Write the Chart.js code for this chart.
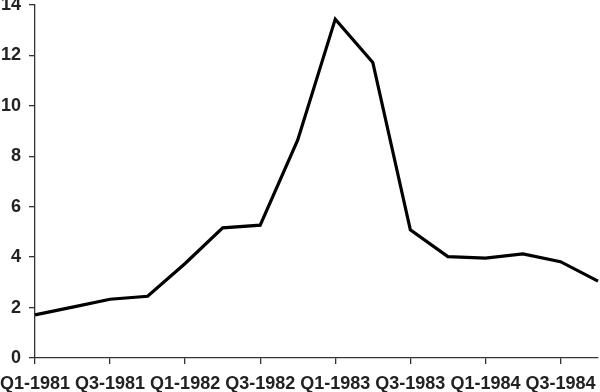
<!DOCTYPE html>
<html>
<head>
<meta charset="utf-8">
<script src="https://cdn.jsdelivr.net/npm/chart.js@4"></script>
<style>
  html, body { margin: 0; padding: 0; background: #fff; }
  #wrap { width: 600px; height: 392px; }
</style>
</head>
<body>
<div id="wrap"><canvas id="grafica"></canvas></div>
<script>
// Trimestres 1981-1984
const trimestres = [
  "Q1-1981", "Q2-1981", "Q3-1981", "Q4-1981",
  "Q1-1982", "Q2-1982", "Q3-1982", "Q4-1982",
  "Q1-1983", "Q2-1983", "Q3-1983", "Q4-1983",
  "Q1-1984", "Q2-1984", "Q3-1984", "Q4-1984"
];
const valores = [
  1.71, 2.02, 2.33, 2.45,
  3.75, 5.16, 5.27, 8.65,
  13.44, 11.72, 5.08, 4.02,
  3.96, 4.13, 3.82, 3.05
];
const ticksY = [0, 2, 4, 6, 8, 10, 12, 14];

const ctx = document.getElementById("grafica").getContext("2d");

new Chart(ctx, {
  type: "line",
  data: {
    labels: trimestres,
    datasets: [
      {
        data: valores,
        borderColor: "#000",
        borderWidth: 3.2,
        pointRadius: 0,
        fill: false,
        tension: 0,
      },
    ],
  },
  options: {
    responsive: true,
    maintainAspectRatio: false,
    animation: false,
    layout: { padding: { top: 5, right: 2, left: 0, bottom: 0 } },
    plugins: {
      legend: { display: false },
      tooltip: { enabled: false },
    },
    scales: {
      x: {
        offset: false,
        border: { color: "#333", width: 1.3 },
        grid: {
          drawOnChartArea: false,
          drawTicks: true,
          tickLength: 6,
          tickColor: "#333",
          lineWidth: 1.3,
        },
        ticks: {
          autoSkip: false,
          maxRotation: 0,
          padding: 9,
          color: "#222",
          font: { family: "Liberation Sans", size: 18, weight: "bold" },
          callback: function (val, i) {
            return i % 2 === 0 ? trimestres[i] : null;
          },
        },
        afterFit: function (scale) {
          scale.height = 34;
          scale.paddingLeft = 0;
          scale.paddingRight = 0;
        },
      },
      y: {
        min: 0,
        max: 14,
        border: { color: "#333", width: 1.3 },
        grid: {
          drawOnChartArea: false,
          drawTicks: true,
          tickLength: 6,
          tickColor: "#333",
          lineWidth: 1.3,
        },
        afterBuildTicks: function (scale) {
          scale.ticks = ticksY.map((v) => ({ value: v }));
        },
        ticks: {
          padding: 8,
          color: "#222",
          font: { family: "Liberation Sans", size: 18, weight: "bold" },
        },
        afterFit: function (scale) {
          scale.width = 35;
          scale.paddingTop = 0;
          scale.paddingBottom = 0;
        },
      },
    },
  },
});
</script>
</body>
</html>
